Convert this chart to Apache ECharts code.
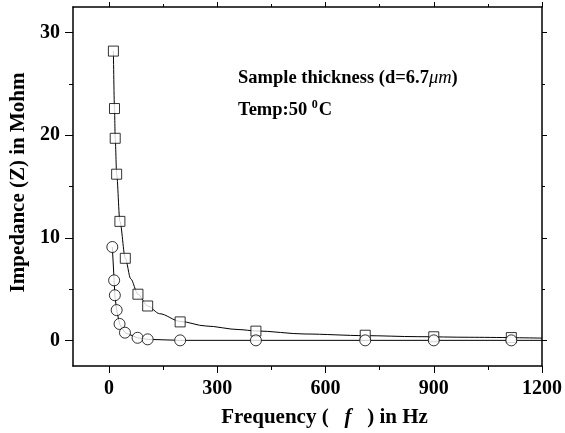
<!DOCTYPE html>
<html>
<head>
<meta charset="utf-8">
<script src="https://cdn.jsdelivr.net/npm/echarts@6/dist/echarts.min.js"></script>
<style>html,body{margin:0;padding:0;background:#fff;}#c{width:565px;height:433px;}</style>
</head>
<body>
<div id="c"></div>
<script>
var freqSquare = [12, 15, 17, 21, 30, 45, 80, 107, 197, 407, 710, 900, 1115];
var zSquare    = [28.2, 22.6, 19.7, 16.2, 11.6, 8.0, 4.5, 3.35, 1.8, 0.9, 0.5, 0.35, 0.27];
var freqCircle = [9, 14, 16, 21, 29, 44, 79, 107, 197, 407, 710, 900, 1115];
var zCircle    = [9.1, 5.85, 4.4, 2.95, 1.6, 0.75, 0.25, 0.1, 0.0, 0.0, 0.0, 0.0, 0.0];
// Fitted curve through the squares
var curveFreqSquare = [12, 15, 17, 21, 30, 45, 60, 80, 107, 140, 197, 268, 360, 407, 543, 710, 854, 1000, 1200];
var curveZSquare    = [28.2, 22.6, 19.7, 16.2, 11.6, 8.0, 6.0, 4.5, 3.35, 2.6, 1.85, 1.4, 1.05, 0.92, 0.62, 0.46, 0.36, 0.3, 0.22];
// Line through the circles
var curveFreqCircle = [9, 14, 16, 21, 29, 44, 79, 107, 197, 407, 710, 900, 1115, 1200];
var curveZCircle    = [9.1, 5.85, 4.4, 2.95, 1.6, 0.75, 0.25, 0.1, 0.0, 0.0, 0.0, 0.0, 0.0, 0.0];

var xMajorTicks = [0, 300, 600, 900, 1200];
var xMinorTicks = [150, 450, 750, 1050];
var yMajorTicks = [0, 10, 20, 30];
var yMinorTicks = [5, 15, 25];

var FONT = '"Liberation Serif", "Times New Roman", serif';

function pairs(xs, ys) { return xs.map(function (x, i) { return [x, ys[i]]; }); }

var lineStyleAx = { color: '#000', width: 1.5 };
function plain(v) { return String(v); }

function xAx(pos, ticks, len, showLine, labels, extra) {
  var o = {
    type: 'value', position: pos, min: -100, max: 1200,
    splitLine: { show: false },
    axisLine: { show: showLine, onZero: false, lineStyle: lineStyleAx },
    axisTick: { show: true, inside: false, length: len, customValues: ticks, lineStyle: { color: '#000', width: 1 } },
    axisLabel: labels ? { show: true, customValues: ticks, formatter: plain, margin: 13, color: '#000', fontFamily: FONT, fontWeight: 'bold', fontSize: 20 } : { show: false }
  };
  return Object.assign(o, extra || {});
}
function yAx(pos, ticks, len, showLine, labels, extra) {
  var o = {
    type: 'value', position: pos, min: -2.5, max: 32.5,
    splitLine: { show: false },
    axisLine: { show: showLine, onZero: false, lineStyle: lineStyleAx },
    axisTick: { show: true, inside: false, length: len, customValues: ticks, lineStyle: { color: '#000', width: 1 } },
    axisLabel: labels ? { show: true, customValues: ticks, formatter: plain, margin: 13, color: '#000', fontFamily: FONT, fontWeight: 'bold', fontSize: 20 } : { show: false }
  };
  return Object.assign(o, extra || {});
}

var chart = echarts.init(document.getElementById('c'), null, { renderer: 'canvas' });
chart.setOption({
  backgroundColor: '#fff',
  animation: false,
  grid: { left: 73, right: 19, top: 7, bottom: 65, containLabel: false },
  xAxis: [
    xAx('bottom', xMajorTicks, 7, true, true, {
      name: '{b|Frequency (   }{i|f}{b|   ) in Hz}', nameLocation: 'middle', nameGap: 41,
      nameTextStyle: { padding: [0, 0, 0, 34], rich: {
        b: { fontFamily: FONT, fontWeight: 'bold', fontSize: 21, color: '#000' },
        i: { fontFamily: FONT, fontWeight: 'bold', fontStyle: 'italic', fontSize: 21, color: '#000' }
      } }
    }),
    xAx('bottom', xMinorTicks, 4, false, false),
    xAx('top', xMajorTicks, 5, true, false),
    xAx('top', xMinorTicks, 3, false, false)
  ],
  yAxis: [
    yAx('left', yMajorTicks, 8, true, true, {
      name: 'Impedance (Z) in Mohm', nameLocation: 'middle', nameGap: 42, nameRotate: 90,
      nameTextStyle: { fontFamily: FONT, fontWeight: 'bold', fontSize: 21, color: '#000', padding: [0, 0, 0, 8] }
    }),
    yAx('left', yMinorTicks, 4, false, false),
    yAx('right', yMajorTicks, 5, true, false),
    yAx('right', yMinorTicks, 3, false, false)
  ],
  graphic: [
    { type: 'text', left: 238, top: 69, style: {
      text: '{b|Sample thickness (d=6.7}{i|μm}{b|)}',
      rich: {
        b: { fontFamily: FONT, fontWeight: 'bold', fontSize: 18.5, fill: '#000' },
        i: { fontFamily: FONT, fontStyle: 'italic', fontSize: 18.5, fill: '#000' }
      } } },
    { type: 'text', left: 238, top: 99, style: {
      text: '{b|Temp:50 }{s|0}{b|C}',
      rich: {
        b: { fontFamily: FONT, fontWeight: 'bold', fontSize: 18.5, fill: '#000', lineHeight: 22 },
        s: { fontFamily: FONT, fontWeight: 'bold', fontSize: 12, fill: '#000', verticalAlign: 'top', lineHeight: 22, padding: [0, 1, 8, 0] }
      } } }
  ],
  series: [
    { type: 'line', data: pairs(curveFreqSquare, curveZSquare), smooth: 0.3, smoothMonotone: 'x', showSymbol: false, symbol: 'none',
      lineStyle: { color: '#000', width: 1 }, z: 2 },
    { type: 'line', data: pairs(curveFreqCircle, curveZCircle), smooth: false, showSymbol: false, symbol: 'none',
      lineStyle: { color: '#000', width: 1 }, z: 2 },
    { type: 'scatter', data: pairs(freqSquare, zSquare), symbol: 'rect', symbolSize: 10,
      itemStyle: { color: '#fff', borderColor: '#000', borderWidth: 1 }, z: 3 },
    { type: 'scatter', data: pairs(freqCircle, zCircle), symbol: 'circle', symbolSize: 11,
      itemStyle: { color: '#fff', borderColor: '#000', borderWidth: 1 }, z: 3 }
  ]
});
</script>
</body>
</html>
